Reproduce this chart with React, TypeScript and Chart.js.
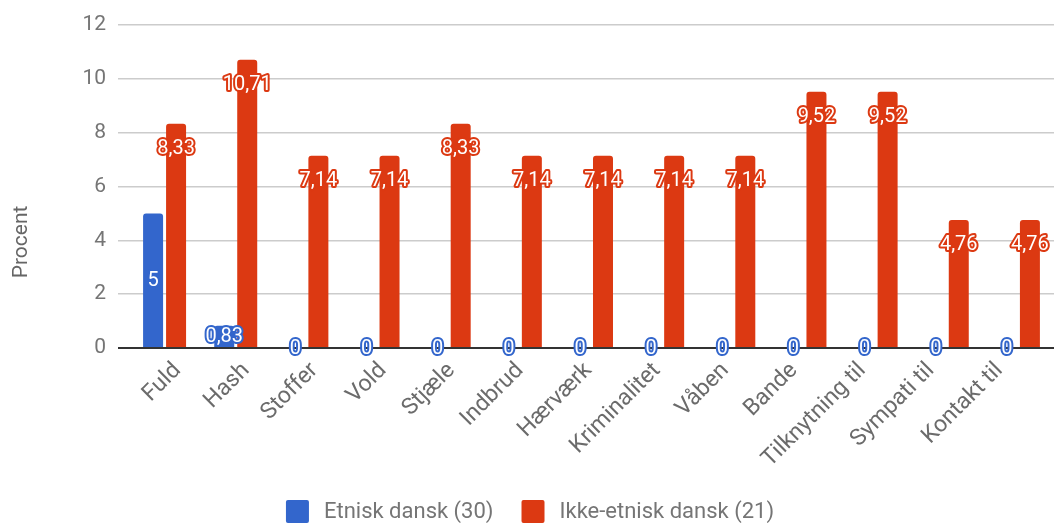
import React, { useEffect, useRef } from "react";
import { Chart, registerables } from "chart.js";

Chart.register(...registerables);

const categories = ["Fuld", "Hash", "Stoffer", "Vold", "Stjæle", "Indbrud", "Hærværk", "Kriminalitet", "Våben", "Bande", "Tilknytning til", "Sympati til", "Kontakt til"];
const etniskDansk = [5, 0.83, 0, 0, 0, 0, 0, 0, 0, 0, 0, 0, 0];
const ikkeEtniskDansk = [8.33, 10.71, 7.14, 7.14, 8.33, 7.14, 7.14, 7.14, 7.14, 9.52, 9.52, 4.76, 4.76];
const seriesNames = ["Etnisk dansk (30)", "Ikke-etnisk dansk (21)"];
const yTicks = [0, 2, 4, 6, 8, 10, 12];
const yTitle = "Procent";

const BLUE = "#3366CC";
const RED = "#DC3912";
const FONT = "Roboto";

export default function App() {
  const ref = useRef<HTMLCanvasElement | null>(null);
  useEffect(() => {
    const canvas = ref.current!;
    const labelsPlugin = {
      id: "valueLabels",
      afterDatasetsDraw(chart: any) {
        const ctx = chart.ctx;
        ctx.save();
        ctx.font = `20px ${FONT}`;
        ctx.textAlign = "center";
        ctx.textBaseline = "middle";
        ctx.lineJoin = "round";
        ctx.lineWidth = 4;
        chart.data.datasets.forEach((ds: any, di: number) => {
          const meta = chart.getDatasetMeta(di);
          meta.data.forEach((el: any, i: number) => {
            const v = ds.data[i];
            const txt = String(v).replace(".", ",");
            const y = di === 0 ? (el.y + el.base) / 2 + 1 : el.y + 25;
            ctx.strokeStyle = ds.backgroundColor;
            ctx.strokeText(txt, el.x, y);
            ctx.fillStyle = "#ffffff";
            ctx.fillText(txt, el.x, y);
          });
        });
        ctx.restore();
      },
    };
    const decoPlugin = {
      id: "deco",
      afterDraw(chart: any) {
        const ctx = chart.ctx;
        const xs = chart.scales.x;
        const area = chart.chartArea;
        // category labels, rotated 45 degrees
        ctx.save();
        ctx.font = `23px ${FONT}`;
        ctx.fillStyle = "#6b6b6b";
        ctx.textAlign = "right";
        ctx.textBaseline = "middle";
        const mid = (area.left + area.right) / 2;
        chart.data.labels.forEach((lab: string, i: number) => {
          const px = xs.getPixelForTick(i);
          const ex = mid - 3 + (px - mid) * 0.9625;
          const ey = area.bottom + 19;
          ctx.save();
          ctx.translate(ex, ey);
          ctx.rotate(-Math.PI / 4);
          ctx.fillText(lab, 0, 0);
          ctx.restore();
        });
        ctx.restore();
        // y title
        ctx.save();
        ctx.font = `21px ${FONT}`;
        ctx.fillStyle = "#666666";
        ctx.textAlign = "center";
        ctx.textBaseline = "middle";
        ctx.translate(22, 242);
        ctx.rotate(-Math.PI / 2);
        ctx.fillText(yTitle, 0, 0);
        ctx.restore();
        // legend
        ctx.save();
        ctx.font = `22px ${FONT}`;
        ctx.textBaseline = "middle";
        ctx.textAlign = "left";
        const box = 23, gapText = 15, gapItem = 28;
        const items = chart.data.datasets.map((d: any) => ({ label: d.label, color: d.backgroundColor, w: ctx.measureText(d.label).width }));
        let total = 0;
        items.forEach((it: any, i: number) => { total += box + gapText + it.w + (i < items.length - 1 ? gapItem : 0); });
        let x = chart.width / 2 - total / 2 + 2;
        const y = 500;
        items.forEach((it: any) => {
          ctx.fillStyle = it.color;
          ctx.beginPath();
          (ctx as any).roundRect(x, y, box, box, 2);
          ctx.fill();
          ctx.fillStyle = "#757575";
          ctx.fillText(it.label, x + box + gapText, y + box / 2 + 1);
          x += box + gapText + it.w + gapItem;
        });
        ctx.restore();
      },
    };
    const chart = new Chart(canvas, {
      type: "bar",
      data: {
        labels: categories,
        datasets: [
          { label: seriesNames[0], data: etniskDansk, backgroundColor: BLUE, borderRadius: 3, categoryPercentage: 0.6463, barPercentage: 0.8696 },
          { label: seriesNames[1], data: ikkeEtniskDansk, backgroundColor: RED, borderRadius: 3, categoryPercentage: 0.6463, barPercentage: 0.8696 },
        ],
      },
      options: {
        animation: false,
        responsive: false,
        maintainAspectRatio: false,
        layout: { padding: { top: 25, right: 2, bottom: 0, left: 0 } },
        plugins: { legend: { display: false }, tooltip: { enabled: false } },
        scales: {
          x: {
            grid: { display: false },
            border: { display: false },
            ticks: { display: false, autoSkip: false },
            afterFit: (s: any) => { s.height = 177; },
          },
          y: {
            min: 0,
            max: 12,
            afterBuildTicks: (s: any) => { s.ticks = yTicks.map((v) => ({ value: v })); },
            border: { display: false },
            grid: {
              color: (c: any) => (c.tick && c.tick.value === 0 ? "#333333" : "#cccccc"),
              lineWidth: (c: any) => (c.tick && c.tick.value === 0 ? 2 : 1.5),
              drawTicks: true,
              tickLength: 11,
            },
            ticks: { color: "#757575", font: { family: FONT, size: 21 }, padding: 12 },
            afterFit: (s: any) => { s.width = 129; },
          },
        },
      },
      plugins: [labelsPlugin, decoPlugin],
    });
    return () => chart.destroy();
  }, []);
  return (
    <div style={{ position: "absolute", left: 0, top: 0, width: 1056, height: 525, background: "#fff" }}>
      <canvas ref={ref} width={1056} height={525} style={{ width: 1056, height: 525, display: "block" }} />
    </div>
  );
}
